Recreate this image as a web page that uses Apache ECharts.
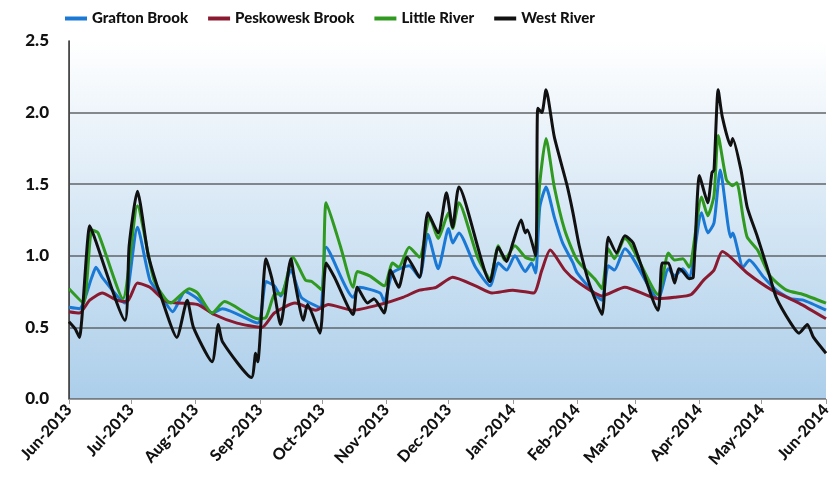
<!DOCTYPE html>
<html>
<head>
<meta charset="utf-8">
<script src="https://cdn.jsdelivr.net/npm/echarts@6/dist/echarts.min.js"></script>
<style>
  html, body { margin: 0; padding: 0; background: #fff; }
  #main { width: 840px; height: 491px; }
</style>
</head>
<body>
<div id="main"></div>
<script>
// x is days since 1 Jun 2013
const monthDays = [0, 30, 61, 92, 122, 153, 183, 214, 245, 273, 304, 334, 365]
const monthLabels = ['Jun-2013', 'Jul-2013', 'Aug-2013', 'Sep-2013', 'Oct-2013', 'Nov-2013', 'Dec-2013',
  'Jan-2014', 'Feb-2014', 'Mar-2014', 'Apr-2014', 'May-2014', 'Jun-2014']
const yTicks = [0, 0.5, 1.0, 1.5, 2.0, 2.5]

const graftonDays = [0, 5, 11, 13, 16, 25, 27, 33, 39, 44, 50, 56, 62, 69, 74, 91, 95, 99, 102, 107, 112, 121,
  124, 137, 140, 150, 152, 156, 164, 169, 173, 178, 183, 185, 188, 196, 203, 207, 211, 215, 220, 223, 225,
  227, 230, 234, 238, 243, 245, 255, 257, 260, 263, 268, 284, 289, 292, 296, 299, 305, 308, 311, 314, 319,
  320, 325, 328, 335, 341, 348, 354, 365]
const graftonVals = [0.64, 0.63, 0.85, 0.92, 0.85, 0.69, 0.67, 1.20, 0.83, 0.73, 0.61, 0.75, 0.70, 0.60, 0.63, 0.53, 0.82, 0.79, 0.72, 0.90, 0.71, 0.64,
  1.06, 0.71, 0.78, 0.74, 0.68, 0.88, 0.93, 0.85, 1.15, 0.91, 1.19, 1.09, 1.16, 0.92, 0.79, 0.95, 0.90, 1.00, 0.89, 0.95, 0.88,
  1.34, 1.48, 1.27, 1.09, 0.95, 0.88, 0.71, 0.69, 0.93, 0.90, 1.05, 0.70, 0.91, 0.86, 0.91, 0.85, 1.30, 1.16, 1.23, 1.60, 1.13,
  1.16, 0.92, 0.97, 0.85, 0.76, 0.70, 0.69, 0.62]

const peskDays = [0, 5, 10, 16, 23, 28, 33, 39, 47, 62, 70, 81, 93, 99, 109, 119, 125, 137, 150, 161, 169, 177,
  185, 196, 204, 214, 224, 228, 232, 239, 245, 257, 268, 284, 292, 300, 306, 311, 315, 327, 339, 352, 365]
const peskVals = [0.61, 0.60, 0.69, 0.74, 0.69, 0.68, 0.81, 0.78, 0.68, 0.66, 0.59, 0.53, 0.50, 0.60, 0.67, 0.62, 0.66, 0.62, 0.66, 0.71, 0.76, 0.78,
  0.85, 0.79, 0.74, 0.76, 0.74, 0.90, 1.04, 0.90, 0.82, 0.72, 0.78, 0.70, 0.71, 0.73, 0.83, 0.90, 1.03, 0.88, 0.76, 0.67, 0.56]

const littleDays = [0, 7, 11, 14, 26, 33, 41, 49, 58, 62, 69, 75, 91, 95, 99, 103, 108, 114, 117, 122, 124, 131,
  137, 139, 145, 152, 156, 159, 164, 169, 174, 178, 183, 185, 188, 197, 203, 207, 210, 215, 220, 224, 227,
  230, 234, 239, 245, 254, 257, 260, 263, 268, 284, 289, 292, 296, 299, 305, 308, 311, 313, 317, 320, 322,
  325, 327, 332, 338, 346, 354, 365]
const littleVals = [0.77, 0.67, 1.18, 1.16, 0.70, 1.35, 0.83, 0.67, 0.77, 0.74, 0.60, 0.68, 0.56, 0.57, 0.73, 0.74, 0.99, 0.83, 0.82, 0.76, 1.37, 1.06,
  0.78, 0.89, 0.86, 0.79, 0.95, 0.92, 1.06, 0.99, 1.27, 1.12, 1.30, 1.19, 1.37, 0.99, 0.84, 1.07, 0.97, 1.07, 0.99, 0.97, 1.51,
  1.82, 1.48, 1.18, 0.97, 0.83, 0.77, 1.05, 0.98, 1.12, 0.73, 1.02, 0.97, 0.98, 0.92, 1.41, 1.28, 1.42, 1.84, 1.53, 1.49, 1.51,
  1.27, 1.13, 1.04, 0.86, 0.76, 0.73, 0.67]

const westDays = [0, 3, 5, 10, 12, 27, 29, 33, 38, 41, 44, 52, 57, 60, 69, 72, 74, 88, 90, 91, 95, 98, 102,
  107, 109, 113, 115, 121, 124, 128, 137, 139, 144, 147, 152, 155, 159, 163, 169, 173, 178, 182, 185, 188,
  203, 207, 211, 214, 218, 220, 221, 225, 226, 228, 230, 234, 240, 243, 246, 251, 257, 260, 264, 268, 272,
  284, 286, 289, 292, 294, 296, 299, 301, 304, 308, 310, 311, 313, 315, 319, 320, 324, 327, 332, 337, 341,
  348, 352, 356, 359, 365]
const westVals = [0.54, 0.49, 0.43, 1.21, 1.14, 0.55, 1.07, 1.45, 1.02, 0.86, 0.73, 0.43, 0.69, 0.50, 0.26, 0.52, 0.40, 0.15, 0.32, 0.26, 0.98, 0.83, 0.52,
  0.98, 0.81, 0.55, 0.66, 0.46, 0.95, 0.85, 0.59, 0.78, 0.67, 0.70, 0.60, 0.90, 0.78, 0.99, 0.85, 1.30, 1.16, 1.44, 1.20, 1.48,
  0.82, 1.06, 0.96, 1.09, 1.25, 1.16, 1.18, 1.00, 2.03, 2.00, 2.16, 1.83, 1.50, 1.30, 1.07, 0.80, 0.59, 1.13, 1.02, 1.14, 1.09,
  0.62, 0.95, 0.95, 0.81, 0.91, 0.89, 0.84, 0.85, 1.56, 1.37, 1.58, 1.60, 2.16, 1.97, 1.77, 1.82, 1.60, 1.34, 1.13, 0.90, 0.71,
  0.53, 0.46, 0.52, 0.43, 0.32]

const textFont = 'Lato, "DejaVu Sans Condensed", sans-serif'

const pairs = (days, vals) => days.map((d, i) => [d, vals[i]])

const lineSeries = (name, color, days, vals) => ({
  name: name,
  type: 'line',
  data: pairs(days, vals),
  showSymbol: false,
  smooth: 0.2,
  lineStyle: { color: color, width: 3 },
  itemStyle: { color: color }
})

let option = {
  animation: false,
  textStyle: { fontFamily: textFont },
  legend: {
    left: 60,
    top: 6,
    icon: 'rect',
    itemWidth: 22,
    itemHeight: 4,
    itemGap: 20,
    textStyle: { fontFamily: textFont, fontSize: 15, fontWeight: 900, color: '#111' }
  },
  grid: {
    left: 69,
    right: 14,
    top: 41,
    bottom: 92,
    show: true,
    borderWidth: 0,
    backgroundColor: new echarts.graphic.LinearGradient(0, 0, 0, 1, [
      { offset: 0, color: '#ffffff' },
      { offset: 1, color: '#acceea' }
    ])
  },
  xAxis: [{
    type: 'value',
    min: 0,
    max: 365,
    axisLine: { show: true, lineStyle: { color: '#9a9a9a', width: 1 } },
    axisTick: { show: true, length: 5, customValues: monthDays, lineStyle: { color: '#9a9a9a' } },
    splitLine: { show: false },
    axisLabel: {
      customValues: monthDays,
      rotate: 48,
      margin: 8,
      fontFamily: textFont,
      fontSize: 16,
      fontWeight: 900,
      color: '#111',
      formatter: v => monthLabels[monthDays.indexOf(v)]
    }
  }, {
    // dotted top border
    type: 'value',
    position: 'top',
    min: 0,
    max: 365,
    axisLine: { show: true, lineStyle: { color: '#999', type: 'dotted', width: 1 } },
    axisTick: { show: false },
    axisLabel: { show: false },
    splitLine: { show: false }
  }],
  yAxis: [{
    type: 'value',
    min: 0,
    max: 2.5,
    interval: 0.5,
    axisLine: { show: true, lineStyle: { color: '#8a8a8a' } },
    axisTick: { show: false },
    axisLabel: {
      customValues: yTicks,
      margin: 20,
      fontFamily: textFont,
      fontSize: 17,
      fontWeight: 900,
      color: '#111',
      formatter: v => v.toFixed(1)
    },
    splitLine: {
      show: true,
      lineStyle: { color: ['#5f6468', '#5f6468', '#5f6468', '#5f6468', '#5f6468', 'rgba(0,0,0,0)'], width: 1.5 }
    }
  }, {
    // right border
    type: 'value',
    position: 'right',
    min: 0,
    max: 2.5,
    axisLine: { show: true, lineStyle: { color: '#333', width: 1.5 } },
    axisTick: { show: false },
    axisLabel: { show: false },
    splitLine: { show: false }
  }],
  series: [
    lineSeries('Grafton Brook', '#1b79d6', graftonDays, graftonVals),
    lineSeries('Peskowesk Brook', '#8a1a30', peskDays, peskVals),
    lineSeries('Little River', '#2f9a1f', littleDays, littleVals),
    lineSeries('West River', '#111111', westDays, westVals)
  ]
}

let myChart = echarts.init(document.getElementById('main'))
myChart.setOption(option)
</script>
</body>
</html>
